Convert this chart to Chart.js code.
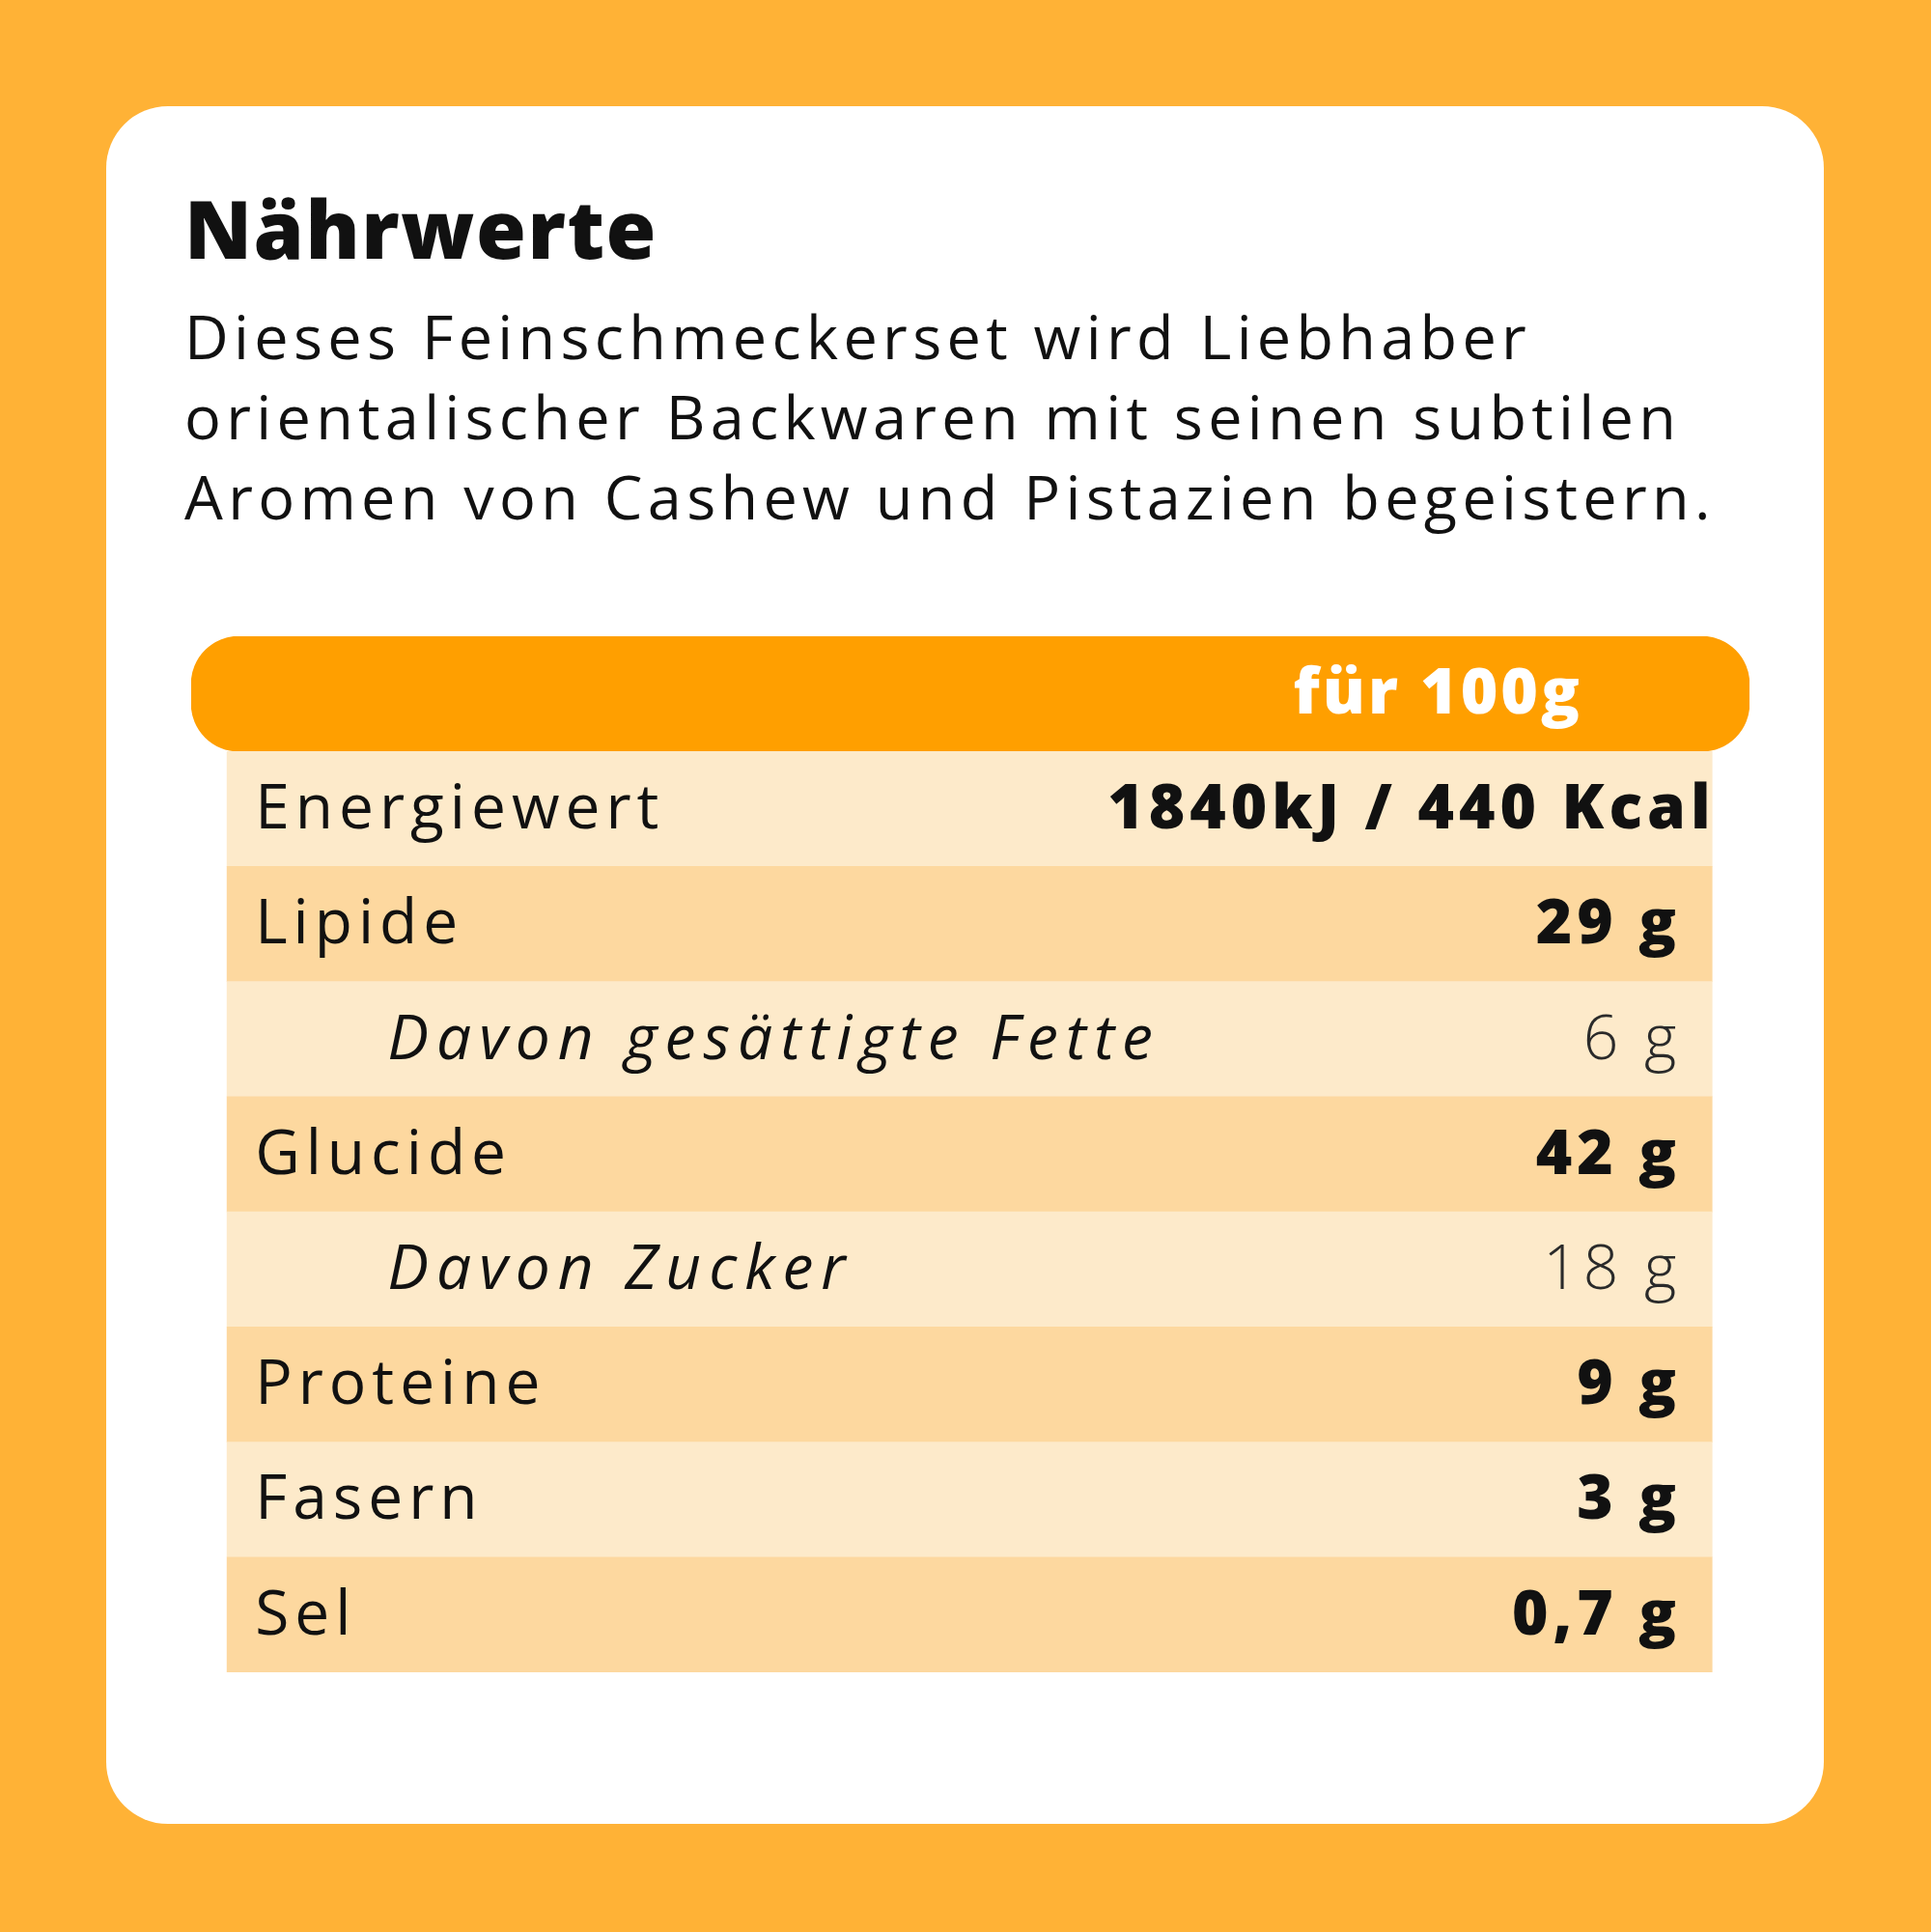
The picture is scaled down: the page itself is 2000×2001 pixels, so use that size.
<!DOCTYPE html>
<html>
<head>
<meta charset="utf-8">
<script src="https://cdn.jsdelivr.net/npm/chart.js@4"></script>
<style>
  body { margin: 0; width: 2000px; height: 2001px; background: #FFB236; font-family: "Open Sans", Lato, sans-serif; }
  #card { position: absolute; left: 110px; top: 110px; width: 1779px; height: 1779px; background: #fff; border-radius: 64px; }
  h1 { position: absolute; left: 191px; top: 178px; margin: 0; font-size: 84px; font-weight: 800; color: #111; letter-spacing: 1.5px; }
  #desc { position: absolute; left: 191px; top: 306px; margin: 0; font-size: 63px; line-height: 83px; color: #111; letter-spacing: 5.3px; }
  #tbl { position: absolute; left: 198px; top: 659px; }
</style>
</head>
<body>
<div id="card"></div>
<h1>Nährwerte</h1>
<p id="desc">Dieses Feinschmeckerset wird Liebhaber<br>orientalischer Backwaren mit seinen subtilen<br>Aromen von Cashew und Pistazien begeistern.</p>
<canvas id="tbl" width="1614" height="1073"></canvas>
<script>
// rows of the table (first row is the header)
const rowLabels = ['', 'Energiewert', 'Lipide', 'Davon gesättigte Fette', 'Glucide', 'Davon Zucker', 'Proteine', 'Fasern', 'Sel'];
const rowValues = ['für 100g', '1840kJ / 440 Kcal', '29 g', '6 g', '42 g', '18 g', '9 g', '3 g', '0,7 g'];
const subRow = [false, false, false, true, false, true, false, false, false];
const rowColors = ['#FF9F00', '#FDEACA', '#FDD89F', '#FDEACA', '#FDD89F', '#FDEACA', '#FDD89F', '#FDEACA', '#FDD89F'];

// header spans whole width, body rows are a bit narrower
const spans = rowLabels.map((l, i) => i === 0 ? [0, 1] : [0.023, 0.976]);

const textPlugin = {
    id: 'rowText',
    afterDatasetsDraw(chart) {
        const ctx = chart.ctx;
        const xs = chart.scales.x;
        const ys = chart.scales.y;
        ctx.save();
        ctx.textBaseline = 'middle';
        rowLabels.forEach((label, i) => {
            const y = ys.getPixelForValue(i) + 2;
            if (i === 0) {
                ctx.fillStyle = '#fff';
                ctx.letterSpacing = '3px';
                ctx.font = '800 66px "Open Sans", sans-serif';
                ctx.textAlign = 'center';
                ctx.fillText(rowValues[i], xs.getPixelForValue(0.8), y);
                return;
            }
            ctx.fillStyle = '#111';
            ctx.textAlign = 'left';
            ctx.letterSpacing = subRow[i] ? '8px' : '6px';
            ctx.font = (subRow[i] ? 'italic 400 ' : '400 ') + '64px "Open Sans", sans-serif';
            ctx.fillText(label, xs.getPixelForValue(subRow[i] ? 0.126 : 0.041), y);
            ctx.textAlign = 'right';
            ctx.letterSpacing = '5px';
            ctx.font = (subRow[i] ? '300 ' : '800 ') + '64px "Open Sans", sans-serif';
            ctx.fillStyle = subRow[i] ? '#2a2a2a' : '#111';
            // trailing letter spacing sits at the right edge, so shift by it
            ctx.fillText(rowValues[i], xs.getPixelForValue(i === 1 ? 0.975 : 0.953) + 5, y);
        });
        ctx.restore();
    }
};

new Chart(document.getElementById('tbl').getContext('2d'), {
    type: 'bar',
    data: {
        labels: rowLabels,
        datasets: [{
            data: spans,
            backgroundColor: rowColors,
            borderRadius: rowLabels.map((l, i) => i === 0 ? 50 : 0),
            borderSkipped: false,
            barPercentage: 1,
            categoryPercentage: 1
        }]
    },
    options: {
        indexAxis: 'y',
        responsive: false,
        animation: false,
        layout: { padding: 0 },
        plugins: { legend: { display: false }, tooltip: { enabled: false } },
        scales: {
            x: { display: false, min: 0, max: 1 },
            y: { display: false }
        }
    },
    plugins: [textPlugin]
});
</script>
</body>
</html>
